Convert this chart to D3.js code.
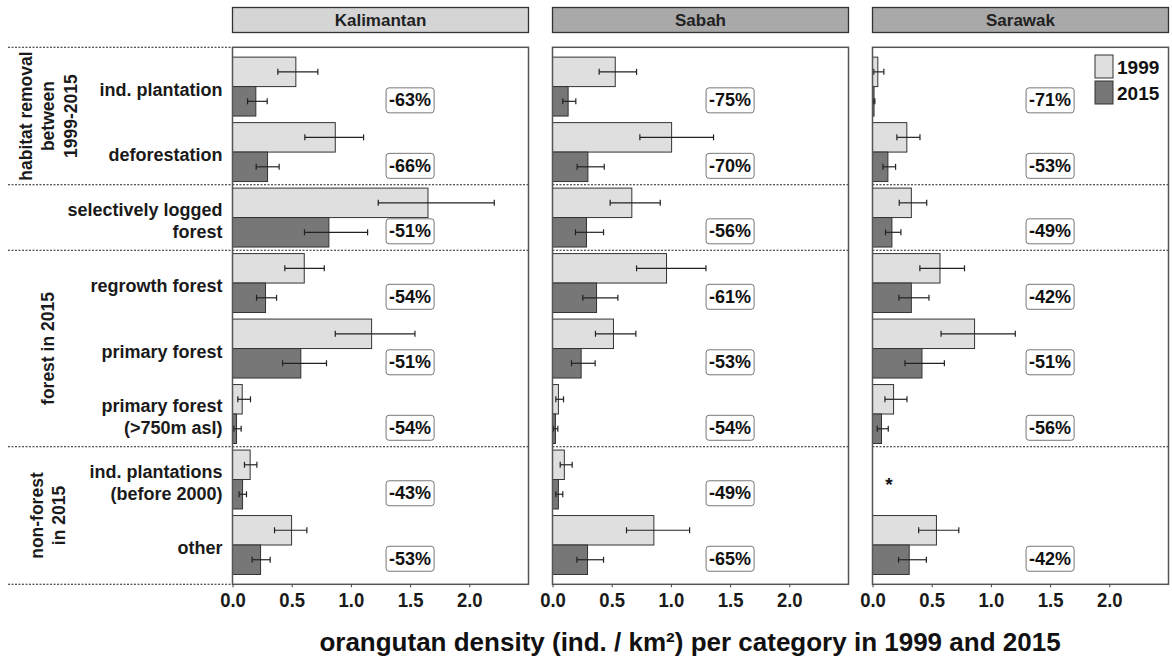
<!DOCTYPE html>
<html>
<head>
<meta charset="utf-8">
<script src="https://cdn.jsdelivr.net/npm/d3@7/dist/d3.min.js"></script>
<style>
  body { margin: 0; background: #fff; }
  text { font-family: 'Liberation Sans', Arial, sans-serif; font-weight: bold; }
</style>
</head>
<body>
<svg id="chart" width="1172" height="664"></svg>
<script>
var regions = [ 'Kalimantan', 'Sabah', 'Sarawak' ]
var years = [ '1999', '2015' ]
var categories = [ 'ind. plantation', 'deforestation', 'selectively logged\nforest', 'regrowth forest', 'primary forest', 'primary forest\n(>750m asl)', 'ind. plantations\n(before 2000)', 'other' ]
var groupLabels = [ [ 'habitat removal', 'between', '1999-2015' ], [], [ 'forest in 2015' ], [ 'non-forest', 'in 2015' ] ]
var groupSizes = [ 2, 1, 3, 2 ]
var xTicks = [ 0, 0.5, 1, 1.5, 2 ]

// density (ind./km2), lower and upper bounds, per category
var kalimantan1999 = [ 0.535, 0.868, 1.651, 0.606, 1.175, 0.082, 0.149, 0.499 ]
var kalimantan1999Lo = [ 0.383, 0.611, 1.231, 0.442, 0.868, 0.045, 0.101, 0.355 ]
var kalimantan1999Hi = [ 0.721, 1.107, 2.211, 0.775, 1.541, 0.152, 0.206, 0.628 ]
var kalimantan2015 = [ 0.197, 0.296, 0.814, 0.279, 0.577, 0.034, 0.085, 0.237 ]
var kalimantan2015Lo = [ 0.127, 0.200, 0.608, 0.203, 0.423, 0.011, 0.056, 0.166 ]
var kalimantan2015Hi = [ 0.293, 0.394, 1.141, 0.372, 0.794, 0.073, 0.118, 0.318 ]
var kalimantanChange = [ -63, -66, -51, -54, -51, -54, -43, -53 ]

var sabah1999 = [ 0.530, 1.006, 0.670, 0.963, 0.515, 0.050, 0.100, 0.856 ]
var sabah1999Lo = [ 0.394, 0.738, 0.487, 0.710, 0.363, 0.028, 0.065, 0.625 ]
var sabah1999Hi = [ 0.710, 1.360, 0.910, 1.296, 0.704, 0.093, 0.166, 1.158 ]
var sabah2015 = [ 0.132, 0.299, 0.287, 0.372, 0.242, 0.025, 0.050, 0.296 ]
var sabah2015Lo = [ 0.087, 0.208, 0.194, 0.256, 0.160, 0.008, 0.028, 0.206 ]
var sabah2015Hi = [ 0.197, 0.437, 0.431, 0.552, 0.360, 0.045, 0.087, 0.431 ]
var sabahChange = [ -75, -70, -56, -61, -53, -54, -49, -65 ]

var sarawak1999 = [ 0.045, 0.290, 0.328, 0.570, 0.862, 0.178, null, 0.540 ]
var sarawak1999Lo = [ 0.011, 0.206, 0.226, 0.400, 0.579, 0.105, null, 0.390 ]
var sarawak1999Hi = [ 0.096, 0.401, 0.458, 0.777, 1.206, 0.291, null, 0.729 ]
var sarawak2015 = [ 0.013, 0.130, 0.164, 0.328, 0.418, 0.076, null, 0.310 ]
var sarawak2015Lo = [ 0.006, 0.088, 0.110, 0.223, 0.274, 0.040, null, 0.220 ]
var sarawak2015Hi = [ 0.020, 0.195, 0.240, 0.477, 0.607, 0.133, null, 0.455 ]
var sarawakChange = [ -71, -53, -49, -42, -51, -56, null, -42 ]

var missingMark = [ null, null, 0.14 ] // "*" in the ind. plantations row, per region

var panels = [
  { d1999: kalimantan1999, lo1999: kalimantan1999Lo, hi1999: kalimantan1999Hi, d2015: kalimantan2015, lo2015: kalimantan2015Lo, hi2015: kalimantan2015Hi, change: kalimantanChange },
  { d1999: sabah1999, lo1999: sabah1999Lo, hi1999: sabah1999Hi, d2015: sabah2015, lo2015: sabah2015Lo, hi2015: sabah2015Hi, change: sabahChange },
  { d1999: sarawak1999, lo1999: sarawak1999Lo, hi1999: sarawak1999Hi, d2015: sarawak2015, lo2015: sarawak2015Lo, hi2015: sarawak2015Hi, change: sarawakChange }
]

var stripFill = [ '#d5d5d5', '#a9a9a9', '#a9a9a9' ]
var fill1999 = '#dfdfdf'
var fill2015 = '#777777'

var plotTop = 47.3
var plotBottom = 584.3
var firstLeft = 232.5
var panelW = 296
var panelGap = 24

var svg = d3.select('#chart')

var y = d3.scaleBand().domain(d3.range(categories.length)).range([ plotTop, plotBottom ])
  .paddingInner(0).paddingOuter(0.1)
var step = y.step()

// group boundaries (band index where a new group starts)
var bounds = []
var acc = 0
groupSizes.forEach(function (n) { acc += n; bounds.push(acc) })
var sepY = bounds.slice(0, -1).map(function (b) { return y(b) })

// left margin: dotted lines, category labels, group labels
var leftLines = [ plotTop ].concat(sepY).concat([ plotBottom ])
svg.selectAll('line.leftsep')
  .data(leftLines)
  .enter().append('line')
  .attr('x1', 8).attr('x2', firstLeft)
  .attr('y1', function (d) { return d }).attr('y2', function (d) { return d })
  .attr('stroke', '#222').attr('stroke-width', 1.1).attr('stroke-dasharray', '2,1.5')

categories.forEach(function (c, i) {
  var lines = c.split('\n')
  var cy = y(i) + step / 2
  var t = svg.append('text')
    .attr('text-anchor', 'end')
    .style('font-size', '18px')
    .attr('fill', '#1a1a1a')
  lines.forEach(function (l, j) {
    t.append('tspan')
      .attr('x', 222.5)
      .attr('y', cy + 9 + (j - (lines.length - 1) / 2) * 22)
      .text(l)
  })
})

var start = 0
groupLabels.forEach(function (lines, g) {
  var y0 = start === 0 ? plotTop : y(start)
  var end = start + groupSizes[g]
  var y1 = end === categories.length ? plotBottom : y(end)
  var cy = (y0 + y1) / 2
  lines.forEach(function (l, j) {
    var cx = 48 + (j - (lines.length - 1) / 2) * 22.5
    svg.append('text')
      .attr('transform', 'translate(' + cx + ',' + cy + ')rotate(-90)')
      .attr('text-anchor', 'middle')
      .attr('dominant-baseline', 'central')
      .style('font-size', '17.5px')
      .attr('fill', '#1a1a1a')
      .text(l)
  })
  start = end
})

// panels
panels.forEach(function (p, k) {
  var left = firstLeft + k * (panelW + panelGap)
  var x = d3.scaleLinear().domain([ 0, 2.5 ]).range([ left, left + panelW ])
  var g = svg.append('g')

  // strip
  g.append('rect')
    .attr('x', left).attr('y', 7.5).attr('width', panelW).attr('height', 25)
    .attr('fill', stripFill[k]).attr('stroke', '#333').attr('stroke-width', 1.3)
  g.append('text')
    .attr('x', left + panelW / 2).attr('y', 20)
    .attr('text-anchor', 'middle').attr('dominant-baseline', 'central')
    .style('font-size', '17px').attr('fill', '#222')
    .text(regions[k])

  // separators
  g.selectAll('line.sep')
    .data(sepY)
    .enter().append('line')
    .attr('x1', left).attr('x2', left + panelW)
    .attr('y1', function (d) { return d }).attr('y2', function (d) { return d })
    .attr('stroke', '#222').attr('stroke-width', 1.1).attr('stroke-dasharray', '2,1.5')

  var bw = step * 0.45
  var series = [
    { v: p.d1999, lo: p.lo1999, hi: p.hi1999, fill: fill1999, off: step * 0.05 },
    { v: p.d2015, lo: p.lo2015, hi: p.hi2015, fill: fill2015, off: step * 0.5 }
  ]

  series.forEach(function (s) {
    var idx = d3.range(categories.length).filter(function (i) { return s.v[i] != null })
    g.selectAll(null)
      .data(idx)
      .enter().append('rect')
      .attr('x', x(0))
      .attr('y', function (i) { return y(i) + s.off })
      .attr('width', function (i) { return x(s.v[i]) - x(0) })
      .attr('height', bw)
      .attr('fill', s.fill).attr('stroke', '#333').attr('stroke-width', 1)

    var eb = g.selectAll(null)
      .data(idx)
      .enter().append('g')
      .attr('stroke', '#222').attr('stroke-width', 1.2)
    eb.append('line')
      .attr('x1', function (i) { return x(s.lo[i]) })
      .attr('x2', function (i) { return x(s.hi[i]) })
      .attr('y1', function (i) { return y(i) + s.off + bw / 2 })
      .attr('y2', function (i) { return y(i) + s.off + bw / 2 })
    ;[ 'lo', 'hi' ].forEach(function (key) {
      eb.append('line')
        .attr('x1', function (i) { return x(s[key][i]) })
        .attr('x2', function (i) { return x(s[key][i]) })
        .attr('y1', function (i) { return y(i) + s.off + bw / 2 - 3 })
        .attr('y2', function (i) { return y(i) + s.off + bw / 2 + 3 })
    })
  })

  // percentage change labels
  d3.range(categories.length).forEach(function (i) {
    if (p.change[i] == null) return
    var cy = y(i) + step * 0.71
    var lab = g.append('g')
    var t = lab.append('text')
      .attr('x', x(1.5)).attr('y', cy)
      .attr('text-anchor', 'middle').attr('dominant-baseline', 'central')
      .style('font-size', '18px').attr('fill', '#111')
      .text(p.change[i] + '%')
    var bb = t.node().getBBox()
    lab.insert('rect', 'text')
      .attr('x', bb.x - 3).attr('y', cy - 12.5)
      .attr('width', bb.width + 6).attr('height', 25)
      .attr('rx', 3).attr('ry', 3)
      .attr('fill', '#fff').attr('stroke', '#777').attr('stroke-width', 1)
  })

  if (missingMark[k] != null) {
    g.append('text')
      .attr('x', x(missingMark[k])).attr('y', y(6) + step / 2 + 11)
      .attr('text-anchor', 'middle')
      .style('font-size', '19px').attr('fill', '#111')
      .text('*')
  }

  // panel border
  g.append('rect')
    .attr('x', left).attr('y', plotTop).attr('width', panelW).attr('height', plotBottom - plotTop)
    .attr('fill', 'none').attr('stroke', '#555').attr('stroke-width', 1.5)

  // x axis
  var ax = g.append('g')
    .attr('transform', 'translate(0,' + plotBottom + ')')
    .call(d3.axisBottom(x).tickValues(xTicks).tickFormat(d3.format('.1f')).tickSize(3).tickPadding(5))
  ax.select('.domain').remove()
  ax.selectAll('line').attr('stroke', '#444')
  ax.selectAll('text').style('font-size', '21px').attr('fill', '#1a1a1a')
    .attr('transform', 'scale(0.88,1)')
    .style('font-family', "'Liberation Sans', Arial, sans-serif").style('font-weight', 'bold')
})

// legend (inside Sarawak panel)
var legX = 1095
years.forEach(function (yr, i) {
  svg.append('rect')
    .attr('x', legX).attr('y', 55 + i * 26).attr('width', 18).attr('height', 23)
    .attr('fill', i === 0 ? fill1999 : fill2015).attr('stroke', '#333').attr('stroke-width', 1)
  svg.append('text')
    .attr('x', legX + 22).attr('y', 74 + i * 25.5)
    .style('font-size', '19px').attr('fill', '#111')
    .text(yr)
})

// axis title
svg.append('text')
  .attr('x', 690).attr('y', 651)
  .attr('text-anchor', 'middle')
  .style('font-size', '26px').attr('fill', '#111')
  .text('orangutan density (ind. / km²) per category in 1999 and 2015')
</script>
</body>
</html>
